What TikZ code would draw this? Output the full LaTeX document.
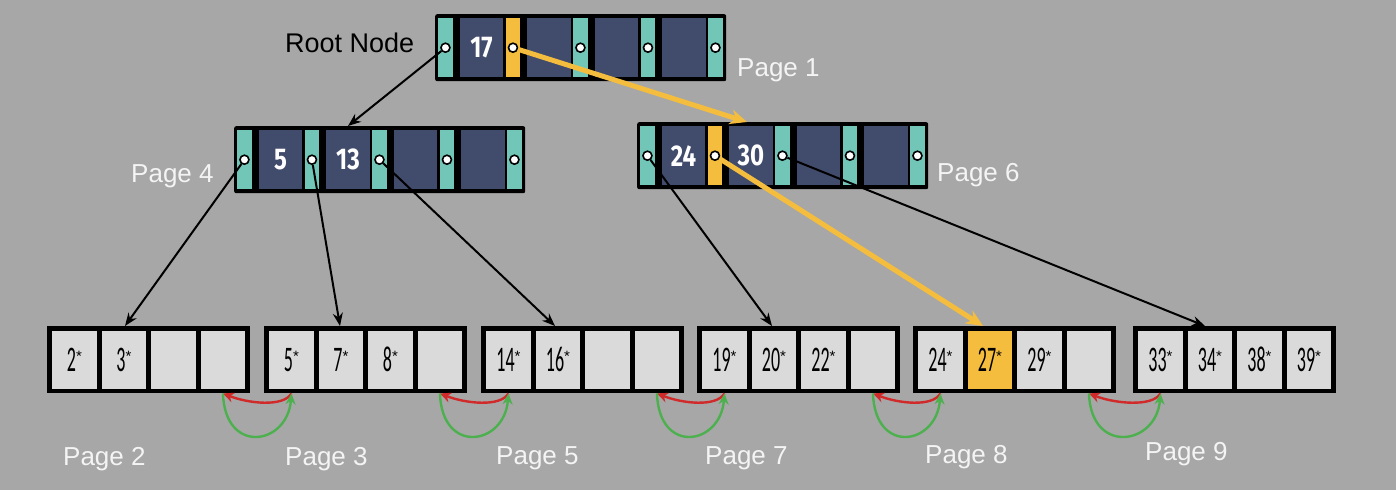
\documentclass[tikz,border=0pt]{standalone}
\usepackage{fontspec}
\usepackage{graphicx}
\setmainfont{Liberation Sans}
\newfontfamily\keyfont{Fira Sans}
\newfontfamily\leaffont{Carlito}
\usetikzlibrary{arrows.meta,calc}
\definecolor{bgray}{HTML}{A7A7A7}
\definecolor{slotteal}{HTML}{72C6B8}
\definecolor{keynavy}{HTML}{414B6B}
\definecolor{hiyellow}{HTML}{F4BD3E}
\definecolor{leafgray}{HTML}{DADADA}
\definecolor{linkred}{HTML}{D02A2A}
\definecolor{linkgreen}{HTML}{4DB04F}
\definecolor{labelwhite}{HTML}{F4F4F4}
\newcommand{\keynum}[1]{\scalebox{0.8}[1]{#1}}
\newcommand{\leafnum}[1]{\scalebox{0.5}[1]{\leaffont\fontsize{36}{36}\selectfont #1}\raisebox{10pt}{\fontsize{15}{15}\selectfont *}}
\newcommand{\bpinner}[4]{%
  \node[outerbox,anchor=north west] (#1) at (#2,#3) {};
  \foreach \k in {0,...,4}{%
    \ifnum\k=#4 \def\slotcol{hiyellow}\else\def\slotcol{slotteal}\fi
    \node[slotbox,fill=\slotcol,anchor=north west] (#1-s\k) at ($(#1.north west)+(3+67.5*\k,4)$) {};
    \node[ptrdot] (#1-p\k) at (#1-s\k) {};
  }
  \foreach \k in {0,...,3}{%
    \node[keybox,anchor=north west] (#1-k\k) at ($(#1.north west)+(24.5+67.5*\k,4)$) {};
  }
}
\newcommand{\bpleaf}[3]{%
  \node[leafbox,anchor=north west] (#1) at (#2,#3) {};
  \foreach \k in {0,...,3}{%
    \node[leafcell,anchor=north west] (#1-c\k) at ($(#1.north west)+(5+49.5*\k,4.5)$) {};
  }
}
\tikzset{
  outerbox/.style={fill=black, rounded corners=2pt, minimum width=291pt, minimum height=67pt, inner sep=0pt},
  slotbox/.style={minimum width=14.5pt, minimum height=59pt, inner sep=0pt},
  keybox/.style={fill=keynavy, minimum width=43.5pt, minimum height=59pt, inner sep=0pt},
  ptrdot/.style={circle, draw=black, fill=white, line width=1.6pt, minimum size=9pt, inner sep=0pt},
  leafbox/.style={fill=black, minimum width=203pt, minimum height=67pt, inner sep=0pt},
  leafcell/.style={fill=leafgray, minimum width=44.5pt, minimum height=58pt, inner sep=0pt},
  keytext/.style={text=white, font=\keyfont\bfseries\fontsize{30}{30}\selectfont, inner sep=0pt},
  leaftext/.style={text=black, inner sep=0pt},
  pagelabel/.style={text=labelwhite, font=\fontsize{26}{30}\selectfont, inner sep=0pt, anchor=base west},
  rootlabel/.style={text=black, font=\fontsize{27}{30}\selectfont, inner sep=0pt, anchor=base west},
  ptrarrow/.style={draw=black, line width=2pt, -{Stealth[length=13pt,width=10pt]}},
  hiarrow/.style={draw=hiyellow, line width=5pt, -{Stealth[length=17pt,width=15pt]}},
  redlink/.style={draw=linkred, line width=2.4pt, -{Stealth[length=11pt,width=10pt]}},
  greenlink/.style={draw=linkgreen, line width=2.4pt, -{Stealth[length=11pt,width=10pt]}},
}
\begin{document}
\begin{tikzpicture}[x=1pt,y=-1pt]
\fill[bgray] (0,0) rectangle (1396,490);
\useasboundingbox (0,0) rectangle (1396,490);
% internal nodes
\bpinner{root}{435}{14}{1}
\bpinner{pfour}{234}{126}{-1}
\bpinner{psix}{637}{122}{1}
\node[keytext] (t17) at (root-k0) {\keynum{17}};
\node[keytext] (t5) at (pfour-k0) {\keynum{5}};
\node[keytext] (t13) at (pfour-k1) {\keynum{13}};
\node[keytext] (t24) at (psix-k0) {\keynum{24}};
\node[keytext] (t30) at (psix-k1) {\keynum{30}};
% leaves
\bpleaf{ltwo}{47}{326}
\bpleaf{lthree}{264}{326}
\bpleaf{lfive}{481}{326}
\bpleaf{lseven}{697}{326}
\bpleaf{leight}{913}{326}
\bpleaf{lnine}{1133}{326}
\node[leafcell,fill=hiyellow,anchor=north west] (leight-hi) at (leight-c1.north west) {};
\node[leaftext] (v2) at (ltwo-c0) {\leafnum{2}};
\node[leaftext] (v3) at (ltwo-c1) {\leafnum{3}};
\node[leaftext] (v5) at (lthree-c0) {\leafnum{5}};
\node[leaftext] (v7) at (lthree-c1) {\leafnum{7}};
\node[leaftext] (v8) at (lthree-c2) {\leafnum{8}};
\node[leaftext] (v14) at (lfive-c0) {\leafnum{14}};
\node[leaftext] (v16) at (lfive-c1) {\leafnum{16}};
\node[leaftext] (v19) at (lseven-c0) {\leafnum{19}};
\node[leaftext] (v20) at (lseven-c1) {\leafnum{20}};
\node[leaftext] (v22) at (lseven-c2) {\leafnum{22}};
\node[leaftext] (v24) at (leight-c0) {\leafnum{24}};
\node[leaftext] (v27) at (leight-hi) {\leafnum{27}};
\node[leaftext] (v29) at (leight-c2) {\leafnum{29}};
\node[leaftext] (v33) at (lnine-c0) {\leafnum{33}};
\node[leaftext] (v34) at (lnine-c1) {\leafnum{34}};
\node[leaftext] (v38) at (lnine-c2) {\leafnum{38}};
\node[leaftext] (v39) at (lnine-c3) {\leafnum{39}};
% targets
\coordinate (tpfour) at ($(pfour.north west)+(114,0)$);
\coordinate (tpsix) at ($(psix.north west)+(110,0)$);
\coordinate (tltwo) at ($(ltwo.north west)+(78,0)$);
\coordinate (tlthree) at ($(lthree.north west)+(76,0)$);
\coordinate (tlfive) at ($(lfive.north west)+(74,0)$);
\coordinate (tlseven) at ($(lseven.north west)+(75,0)$);
\coordinate (tleight) at ($(leight.north west)+(70,0)$);
\coordinate (tlnine) at ($(lnine.north west)+(72,0)$);
% pointers
\draw[ptrarrow] (root-p0) -- (tpfour);
\draw[hiarrow] (root-p1) -- (tpsix);
\draw[ptrarrow] (pfour-p0) -- (tltwo);
\draw[ptrarrow] (pfour-p1) -- (tlthree);
\draw[ptrarrow] (pfour-p2) -- (tlfive);
\draw[ptrarrow] (psix-p0) -- (tlseven);
\draw[hiarrow] (psix-p1) -- (tleight);
\draw[ptrarrow] (psix-p2) -- (tlnine);
% sibling links
\foreach \a/\b in {ltwo/lthree, lthree/lfive, lfive/lseven, lseven/leight, leight/lnine}{%
  \draw[redlink] (\b-c0.south |- \b.south) .. controls +(-8,14) and +(25,10) .. (\a-c3.south |- \a.south);
  \draw[greenlink] (\a-c3.south |- \a.south) .. controls +(2,62) and +(-4,52) .. (\b-c0.south |- \b.south);
}
% labels
\node[rootlabel] (lbroot) at (285,52) {Root Node};
\node[pagelabel] (lbp1) at (737,76) {Page 1};
\node[pagelabel] (lbp4) at (131,182) {Page 4};
\node[pagelabel] (lbp6) at (937,181) {Page 6};
\node[pagelabel] (lbp2) at (63,465) {Page 2};
\node[pagelabel] (lbp3) at (285,465) {Page 3};
\node[pagelabel] (lbp5) at (496,464) {Page 5};
\node[pagelabel] (lbp7) at (705,464) {Page 7};
\node[pagelabel] (lbp8) at (925,463) {Page 8};
\node[pagelabel] (lbp9) at (1145,460) {Page 9};
\end{tikzpicture}
\end{document}
